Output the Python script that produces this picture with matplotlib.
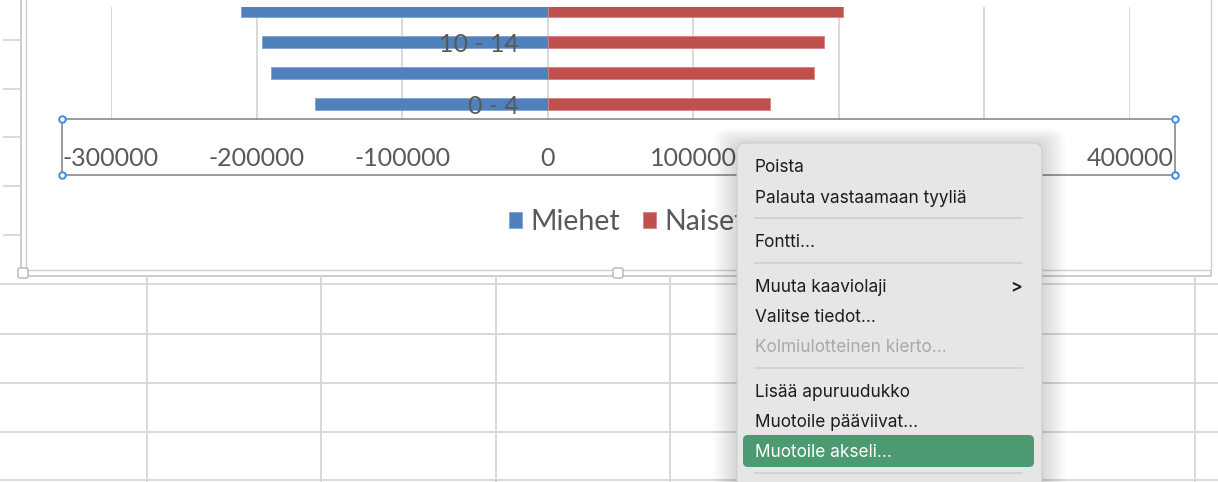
import matplotlib.pyplot as plt
from matplotlib.patches import FancyBboxPatch, Rectangle

W, H = 1218, 482

# population pyramid data (bottom four age groups visible)
categories = ["0 - 4", "5 - 9", "10 - 14", "15 - 19"]
miehet = [160000, 190000, 196000, 211000]
naiset = [153000, 183000, 190000, 203000]
xticks = [-300000, -200000, -100000, 0, 100000, 200000, 300000, 400000]

menu_items = ["Poista", "Palauta vastaamaan tyyliä", None, "Fontti...", None,
              "Muuta kaaviolaji", "Valitse tiedot...", "Kolmiulotteinen kierto...", None,
              "Lisää apuruudukko", "Muotoile pääviivat...", "Muotoile akseli...", None]

BLUE = "#4f81bd"
RED = "#c0504d"
TXT = "#595959"
FONT = "Lato"

fig = plt.figure(figsize=(W / 100, H / 100), dpi=100)


def fx(x):
    return x / W


def fy(y):
    return 1 - y / H


# background: spreadsheet and chart frame
bg = fig.add_axes([0, 0, 1, 1], zorder=-1)
bg.set_xlim(0, W)
bg.set_ylim(H, 0)
bg.axis("off")
grid_c = "#d6d6d6"
for y in [284, 334, 383, 432, 480]:
    bg.plot([0, W], [y, y], color=grid_c, lw=1.3)
for x in [147, 321, 496, 670, 845, 1195]:
    bg.plot([x, x], [276, H], color=grid_c, lw=1.3)
for y in [40, 89, 137, 186, 235]:
    bg.plot([4, 20], [y, y], color=grid_c, lw=1.3)
bg.add_patch(Rectangle((21, -10), 1190, 286, facecolor="white", edgecolor="#c4c4c4", lw=1.2))
bg.add_patch(Rectangle((26, -10), 1185, 280, facecolor="white", edgecolor="#cfcfcf", lw=1.0))
for hx in [23, 618]:
    bg.add_patch(FancyBboxPatch((hx - 5, 268), 10, 10, boxstyle="round,pad=0,rounding_size=2",
                                facecolor="white", edgecolor="#b5b5b5", lw=1))

# chart
ax = fig.add_axes([fx(111), fy(119.5), fx(1130 - 111), (119.5 - 7) / H])
ax.set_facecolor("none")
ax.set_axisbelow(False)  # category labels sit on top of the bars
ax.spines["left"].set_position(("data", 0))
for s in ax.spines.values():
    s.set_visible(False)
ypos = list(range(len(categories)))
for t in xticks:
    ax.axvline(t, color="#d9d9d9", lw=1.4, zorder=0)
ax.barh(ypos, [-v for v in miehet], height=0.4, color=BLUE, edgecolor="#7fa3d0", lw=0.6, label="Miehet", zorder=1)
ax.barh(ypos, naiset, height=0.4, color=RED, edgecolor="#d9827f", lw=0.6, label="Naiset", zorder=1)
ax.set_xlim(-300000, 400000)
ax.set_ylim(-0.5, -0.5 + 112.5 / 31)
ax.set_xticks(xticks)
ax.set_xticklabels([str(v) for v in xticks], fontsize=18, color=TXT, family=FONT)
ax.set_yticks(ypos)
ax.set_yticklabels([c if i % 2 == 0 else "" for i, c in enumerate(categories)],
                   fontsize=18, color=TXT, family=FONT)
ax.tick_params(axis="x", length=0, pad=20)
ax.tick_params(axis="y", length=0, pad=21)

fig.legend(loc="center", bbox_to_anchor=(fx(627), fy(222)), ncol=2, frameon=False,
           prop={"family": FONT, "size": 20.5}, labelcolor=TXT, handlelength=0.45,
           handleheight=0.45, handletextpad=0.3, columnspacing=0.8)

# overlay: selected axis box and context menu
ov = fig.add_axes([0, 0, 1, 1], zorder=10)
ov.set_xlim(0, W)
ov.set_ylim(H, 0)
ov.axis("off")
ov.patch.set_alpha(0)
ov.add_patch(Rectangle((62, 119), 1113, 56, facecolor="none", edgecolor="#8a8a8a", lw=1.2, zorder=1))
ov.scatter([62, 1175, 62, 1175], [119, 119, 175, 175], s=22, facecolor="white",
           edgecolor="#3a8ee6", lw=1.4, zorder=2)

for i in range(8):
    g = 2 + i * 3
    ov.add_patch(FancyBboxPatch((737 - g, 143 - g * 0.6), 305 + 2 * g, 380, boxstyle="round,pad=0,rounding_size=12",
                                facecolor="black", edgecolor="none", alpha=0.018, zorder=3))
ov.add_patch(FancyBboxPatch((737, 143), 305, 380, boxstyle="round,pad=0,rounding_size=9",
                            facecolor="#e6e6e6", edgecolor="#cdcdcd", lw=0.8, zorder=4))
ov.add_patch(FancyBboxPatch((743, 435), 291, 32, boxstyle="round,pad=0,rounding_size=5",
                            facecolor="#4b9a71", edgecolor="none", zorder=5))

item_y = [166, 197, 218, 241, 263, 286, 316, 346, 368, 391, 421, 451, 473]
for label, y in zip(menu_items, item_y):
    if label is None:
        ov.plot([755, 1022], [y, y], color="#cdcdcd", lw=1.1, zorder=6)
        continue
    color = "#1c1c1c"
    if label.startswith("Kolmiulotteinen"):
        color = "#a9a9a9"
    if label == "Muotoile akseli...":
        color = "white"
    ov.text(755, y + 1.5, label, fontsize=12.4, family="Inter", color=color, va="center", ha="left", zorder=7)
ov.text(1016, 287, ">", fontsize=12.5, family="Inter", color="#1c1c1c", va="center", ha="center",
        fontweight="semibold", zorder=7)

fig.savefig("out.png", dpi=100)
